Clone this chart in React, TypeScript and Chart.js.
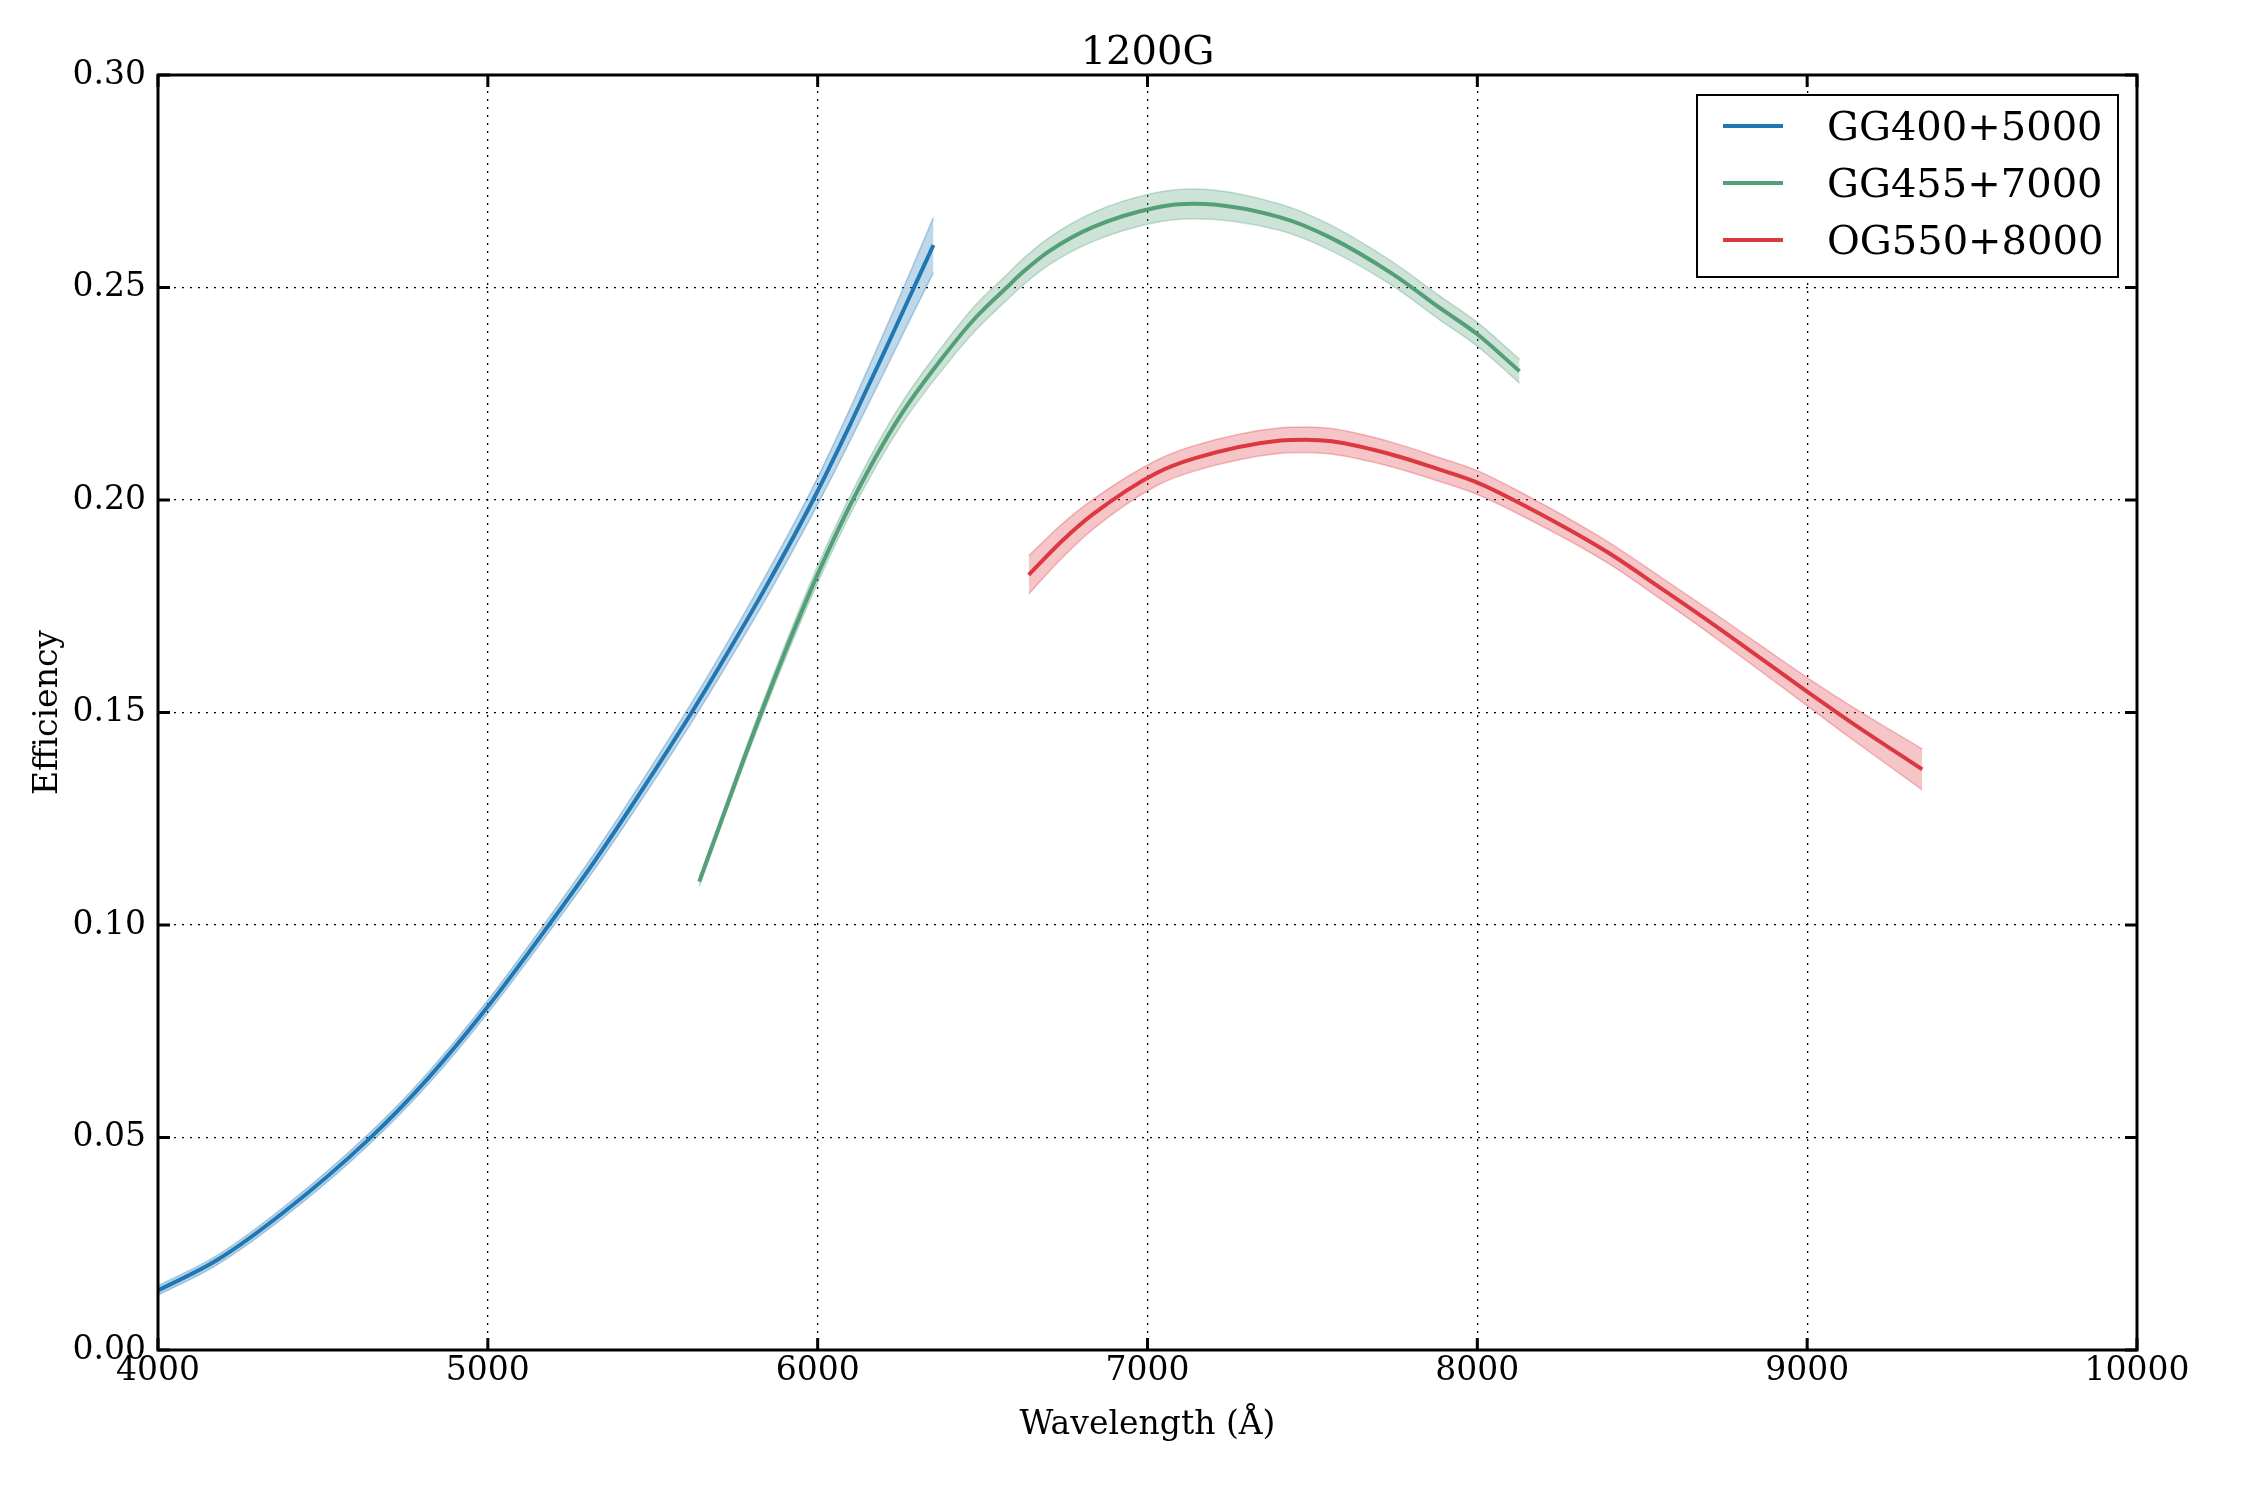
import React, { useEffect, useRef } from "react";
import { Chart, registerables } from "chart.js";

Chart.register(...registerables);

const FONT = '"DejaVu Serif", "Liberation Serif", serif';

const TITLE = "1200G";
const X_LABEL = "Wavelength (Å)";
const Y_LABEL = "Efficiency";

const X_TICKS = [4000, 5000, 6000, 7000, 8000, 9000, 10000];
const Y_TICKS = [0, 0.05, 0.1, 0.15, 0.2, 0.25, 0.3];

const SERIES_LABELS = ["GG400+5000", "GG455+7000", "OG550+8000"];
const SERIES_COLORS = ["#1f77b4", "#549e78", "#dc3840"];

// GG400+5000
const blueX = [4000, 4178, 4381, 4638, 4814, 5000, 5185, 5327, 5462, 5618, 5732, 5850, 5986, 6100, 6200, 6286, 6351];
const blueY = [0.014, 0.0211, 0.0324, 0.0495, 0.0635, 0.0808, 0.1, 0.1154, 0.1311, 0.15, 0.1647, 0.1805, 0.2, 0.218, 0.2345, 0.249, 0.26];
const blueErr = [0.0011, 0.0011, 0.0012, 0.0013, 0.0014, 0.0015, 0.0017, 0.0019, 0.0021, 0.0023, 0.0025, 0.0028, 0.0031, 0.0038, 0.0047, 0.0056, 0.0065];

// GG455+7000
const greenX = [5641, 5700, 5800, 5900, 6000, 6113, 6248, 6399, 6480, 6573, 6625, 6701, 6834, 7031, 7142, 7403, 7553, 7745, 7884, 8000, 8128];
const greenY = [0.1102, 0.1228, 0.144, 0.164, 0.1825, 0.201, 0.2195, 0.2355, 0.243, 0.25, 0.2538, 0.2585, 0.2642, 0.2689, 0.2697, 0.2665, 0.2618, 0.2531, 0.2453, 0.239, 0.2303];
const greenErr = [0.001, 0.0011, 0.0014, 0.0017, 0.002, 0.0022, 0.0025, 0.0028, 0.003, 0.003, 0.0031, 0.0032, 0.0034, 0.0035, 0.0035, 0.0031, 0.003, 0.0028, 0.0028, 0.0028, 0.0028];

// OG550+8000
const redX = [6640, 6740, 6834, 7026, 7142, 7403, 7480, 7559, 7745, 7884, 8000, 8110, 8389, 8563, 8725, 9000, 9131, 9349];
const redY = [0.1824, 0.1903, 0.1966, 0.2063, 0.2098, 0.214, 0.2142, 0.2138, 0.2106, 0.2072, 0.2041, 0.2, 0.188, 0.1789, 0.1702, 0.1549, 0.1478, 0.1366];
const redErr = [0.0045, 0.004, 0.0035, 0.003, 0.003, 0.003, 0.003, 0.003, 0.0029, 0.0028, 0.0028, 0.0027, 0.0025, 0.0026, 0.0028, 0.0033, 0.0038, 0.0048];

function rgba(hex: string, a: number) {
  const n = parseInt(hex.slice(1), 16);
  return `rgba(${(n >> 16) & 255},${(n >> 8) & 255},${n & 255},${a})`;
}

const SERIES = [
  { x: blueX, y: blueY, e: blueErr },
  { x: greenX, y: greenY, e: greenErr },
  { x: redX, y: redY, e: redErr },
];

const decorPlugin = {
  id: "decor",
  afterDraw(chart: any) {
    const ctx: CanvasRenderingContext2D = chart.ctx;
    const { left, right, top, bottom } = chart.chartArea;
    const xs = chart.scales.x;
    const ys = chart.scales.y;
    ctx.save();
    ctx.strokeStyle = "#000";
    ctx.lineWidth = 3;
    ctx.setLineDash([]);
    const tl = 12;
    // inward ticks on all four sides
    ctx.beginPath();
    X_TICKS.forEach((v) => {
      const px = xs.getPixelForValue(v);
      ctx.moveTo(px, bottom);
      ctx.lineTo(px, bottom - tl);
      ctx.moveTo(px, top);
      ctx.lineTo(px, top + tl);
    });
    Y_TICKS.forEach((v) => {
      const py = ys.getPixelForValue(v);
      ctx.moveTo(left, py);
      ctx.lineTo(left + tl, py);
      ctx.moveTo(right, py);
      ctx.lineTo(right - tl, py);
    });
    ctx.stroke();
    // frame
    ctx.strokeRect(left, top, right - left, bottom - top);

    const cx = (left + right) / 2;
    ctx.fillStyle = "#000";
    // title
    ctx.font = `40px ${FONT}`;
    ctx.textAlign = "center";
    ctx.textBaseline = "alphabetic";
    ctx.fillText(TITLE, cx, top - 11);
    // x label
    ctx.font = `33px ${FONT}`;
    ctx.fillText(X_LABEL, cx, bottom + 84);
    // y label
    ctx.save();
    ctx.translate(57, (top + bottom) / 2);
    ctx.rotate(-Math.PI / 2);
    ctx.fillText(Y_LABEL, 0, 0);
    ctx.restore();

    // legend
    const lx = 1697, ly = 95, lw = 421, lh = 182;
    ctx.fillStyle = "#fff";
    ctx.fillRect(lx, ly, lw, lh);
    ctx.lineWidth = 2;
    ctx.strokeStyle = "#000";
    ctx.strokeRect(lx, ly, lw, lh);
    ctx.font = `40px ${FONT}`;
    ctx.textAlign = "left";
    SERIES_LABELS.forEach((lab, i) => {
      const ry = 126 + i * 57;
      ctx.strokeStyle = SERIES_COLORS[i];
      ctx.lineWidth = 4;
      ctx.beginPath();
      ctx.moveTo(lx + 26, ry);
      ctx.lineTo(lx + 86, ry);
      ctx.stroke();
      ctx.fillStyle = "#000";
      ctx.fillText(lab, lx + 130, ry + 14);
    });
    ctx.restore();
  },
};

export default function App() {
  const ref = useRef<HTMLCanvasElement | null>(null);

  useEffect(() => {
    if (!ref.current) return;
    const lineSets: any[] = [];
    const bandSets: any[] = [];
    SERIES.forEach((s, i) => {
      const c = SERIES_COLORS[i];
      lineSets.push({
        label: SERIES_LABELS[i],
        data: s.x.map((x, k) => ({ x, y: s.y[k] })),
        borderColor: c,
        borderWidth: 4,
        pointRadius: 0,
        fill: false,
        cubicInterpolationMode: "monotone",
        order: 0,
      });
    });
    SERIES.forEach((s, i) => {
      const c = SERIES_COLORS[i];
      bandSets.push({
        label: SERIES_LABELS[i] + " upper",
        data: s.x.map((x, k) => ({ x, y: s.y[k] + s.e[k] })),
        borderColor: rgba(c, 0.32),
        borderWidth: 1.5,
        backgroundColor: rgba(c, 0.29),
        pointRadius: 0,
        cubicInterpolationMode: "monotone",
        fill: "+1",
        order: 1,
      });
      bandSets.push({
        label: SERIES_LABELS[i] + " lower",
        data: s.x.map((x, k) => ({ x, y: s.y[k] - s.e[k] })),
        borderColor: rgba(c, 0.32),
        borderWidth: 1.5,
        pointRadius: 0,
        cubicInterpolationMode: "monotone",
        fill: false,
        order: 1,
      });
    });

    const chart = new Chart(ref.current, {
      type: "line",
      data: { datasets: [...bandSets, ...lineSets] },
      options: {
        animation: false,
        responsive: true,
        maintainAspectRatio: false,
        layout: { padding: { top: 75, right: 113, bottom: 0, left: 0 } },
        plugins: {
          legend: { display: false },
          tooltip: { enabled: false },
          title: { display: false },
        },
        scales: {
          x: {
            type: "linear",
            min: 4000,
            max: 10000,
            afterBuildTicks: (scale: any) => {
              scale.ticks = X_TICKS.map((v) => ({ value: v }));
            },
            afterFit: (scale: any) => {
              scale.height = 150;
            },
            ticks: {
              color: "#000",
              font: { family: FONT, size: 33 },
              padding: 2,
              maxRotation: 0,
              autoSkip: false,
              callback: (v: any) => String(v),
            },
            grid: { color: "#000", lineWidth: 1.3, drawTicks: false },
            border: { display: false, dash: [2, 6] },
          },
          y: {
            type: "linear",
            min: 0,
            max: 0.3,
            afterBuildTicks: (scale: any) => {
              scale.ticks = Y_TICKS.map((v) => ({ value: v }));
            },
            afterFit: (scale: any) => {
              scale.width = 158;
            },
            ticks: {
              color: "#000",
              font: { family: FONT, size: 33 },
              padding: 12,
              autoSkip: false,
              callback: (v: any) => Number(v).toFixed(2),
            },
            grid: { color: "#000", lineWidth: 1.3, drawTicks: false },
            border: { display: false, dash: [2, 6] },
          },
        },
      },
      plugins: [decorPlugin],
    });
    return () => chart.destroy();
  }, []);

  return (
    <div
      style={{
        position: "fixed",
        left: 0,
        top: 0,
        width: "2250px",
        height: "1500px",
        background: "#fff",
      }}
    >
      <canvas ref={ref} />
    </div>
  );
}
